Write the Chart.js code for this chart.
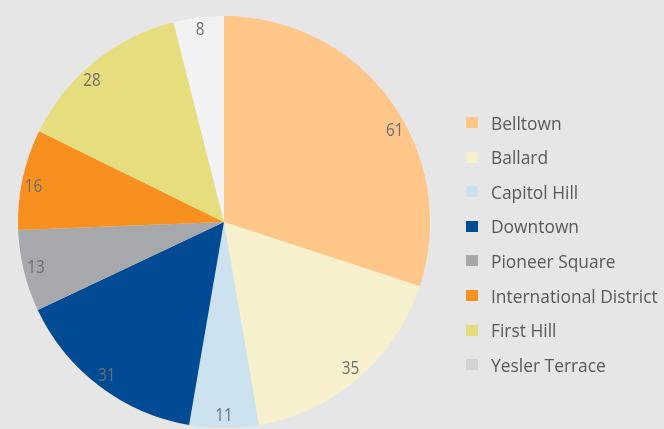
<!DOCTYPE html>
<html>
<head>
<meta charset="utf-8">
<script src="https://cdn.jsdelivr.net/npm/chart.js@4/dist/chart.umd.min.js"></script>
<style>
  html, body { margin: 0; padding: 0; background: #e6e6e6; }
  #wrap { position: relative; width: 664px; height: 429px; overflow: hidden; background: #e6e6e6; }
  #pie { position: absolute; left: 0; top: 0; }
  #legend { position: absolute; left: 466px; top: 0; font-family: 'Open Sans', sans-serif; font-size: 17.4px; color: #58595b; }
  .row { position: absolute; left: 0; height: 20px; display: flex; align-items: center; white-space: nowrap; }
  .sw { width: 12px; height: 11px; margin-right: 13px; flex: none; }
</style>
</head>
<body>
<div id="wrap">
  <canvas id="pie" width="664" height="429"></canvas>
  <div id="legend"></div>
</div>
<script>
// Neighbourhoods and their counts
const neighborhoods = ['Belltown', 'Ballard', 'Capitol Hill', 'Downtown', 'Pioneer Square', 'International District', 'First Hill', 'Yesler Terrace'];
const counts = [61, 35, 11, 31, 13, 16, 28, 8];

// Slice fills and legend swatches
const sliceColors = ['#fec689', '#f7f0cc', '#cce3ef', '#004b93', '#a7a8ab', '#f7901e', '#e6de7e', '#f1f2f4'];
const swatchColors = ['#fec689', '#f7f0cc', '#cce3ef', '#004b93', '#a7a8ab', '#f7901e', '#e6de7e', '#d1d3d4'];

// Small angular nudges (degrees) for value labels that sit near slice edges
const labelNudge = [7.8, 0, 0, 0, 0, -1.5, -4, 0];

// Value labels drawn just inside the rim of each slice, in a slightly condensed face
const valueLabels = {
  id: 'valueLabels',
  afterDatasetsDraw(chart) {
    const ctx = chart.ctx;
    const meta = chart.getDatasetMeta(0);
    const data = chart.data.datasets[0].data;
    const squeeze = 0.85;
    meta.data.forEach((arc, i) => {
      const p = arc.getProps(['x', 'y', 'startAngle', 'endAngle', 'outerRadius'], true);
      const mid = (p.startAngle + p.endAngle) / 2 + labelNudge[i] * Math.PI / 180;
      const r = p.outerRadius * 0.94;
      const lx = p.x + Math.cos(mid) * r;
      const ly = p.y + Math.sin(mid) * r;
      ctx.save();
      ctx.translate(lx, ly);
      ctx.scale(squeeze, 1);
      ctx.font = "18px 'Open Sans', sans-serif";
      ctx.fillStyle = '#6d6e71';
      ctx.textAlign = 'center';
      ctx.textBaseline = 'middle';
      ctx.fillText(String(data[i]), 0, 0);
      ctx.restore();
    });
  }
};

new Chart(document.getElementById('pie'), {
  type: 'pie',
  data: {
    labels: neighborhoods,
    datasets: [{
      data: counts,
      backgroundColor: sliceColors,
      borderWidth: 0
    }]
  },
  options: {
    responsive: false,
    animation: false,
    layout: { padding: { left: 18, right: 234, top: 16, bottom: 1 } },
    plugins: {
      legend: { display: false },
      tooltip: { enabled: false }
    }
  },
  plugins: [valueLabels]
});

// Legend on the right
const legend = document.getElementById('legend');
neighborhoods.forEach((name, i) => {
  const row = document.createElement('div');
  row.className = 'row';
  row.style.top = (112.5 + i * 34.6) + 'px';
  const sw = document.createElement('span');
  sw.className = 'sw';
  sw.style.background = swatchColors[i];
  const tx = document.createElement('span');
  tx.textContent = name;
  row.appendChild(sw);
  row.appendChild(tx);
  legend.appendChild(row);
});
</script>
</body>
</html>
